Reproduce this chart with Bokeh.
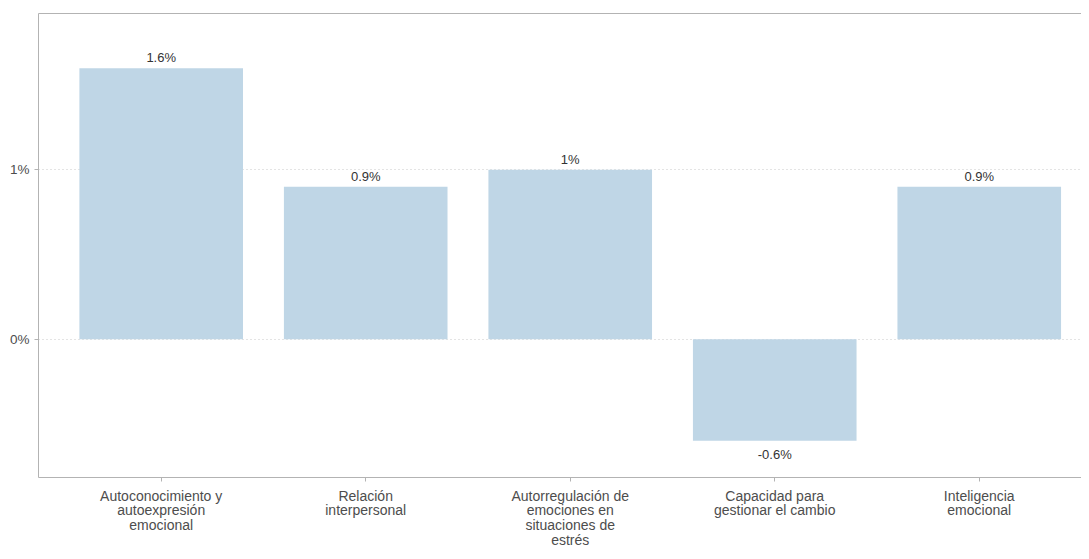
from bokeh.plotting import figure
from bokeh.models import (ColumnDataSource, Range1d, FixedTicker, LinearAxis,
                          PrintfTickFormatter)
from bokeh.embed import file_html
from bokeh.resources import INLINE
from bokeh.core.properties import value

# ---- data ----
categories = [
    "Autoconocimiento y\nautoexpresión\nemocional",
    "Relación\ninterpersonal",
    "Autorregulación de\nemociones en\nsituaciones de\nestrés",
    "Capacidad para\ngestionar el cambio",
    "Inteligencia\nemocional",
]
values = [1.6, 0.9, 1.0, -0.6, 0.9]
value_labels = ["1.6%", "0.9%", "1%", "-0.6%", "0.9%"]
y_ticks = [0, 1]

Y_START, Y_END = -0.817, 1.923

idx = list(range(len(categories)))
src = ColumnDataSource(dict(
    x=idx,
    top=values,
    label=value_labels,
    baseline=["bottom" if v >= 0 else "top" for v in values],
    yoff=[-3 if v >= 0 else 6 for v in values],
))

FONT = "Liberation Sans"
GREY_TXT = "#4d4d4d"
AXIS_COL = "#b3b3b3"

p = figure(width=1081, height=551, output_backend="svg", toolbar_location=None,
           x_range=Range1d(-0.6, 4.5), y_range=Range1d(Y_START, Y_END),
           min_border_left=38, min_border_right=0, min_border_top=13,
           min_border_bottom=10)

p.vbar(x="x", top="top", bottom=0, width=0.8, source=src,
       fill_color="#bfd6e6", line_color=None)

p.text(x="x", y="top", text="label", source=src,
       text_align="center", text_baseline="baseline", y_offset="yoff",
       text_font=value(FONT), text_font_size="13px", text_color="#333333")

# axes
p.xaxis.ticker = FixedTicker(ticks=idx)
p.xaxis.major_label_overrides = {i: c for i, c in zip(idx, categories)}
p.xaxis.major_label_text_font = FONT
p.xaxis.major_label_text_font_size = "14px"
p.xaxis.major_label_text_color = GREY_TXT
p.xaxis.major_label_text_line_height = 0.93
p.xaxis.major_label_standoff = 6

p.yaxis.ticker = FixedTicker(ticks=y_ticks)
p.yaxis.formatter = PrintfTickFormatter(format="%d%%")
p.yaxis.major_label_text_font = FONT
p.yaxis.major_label_text_font_size = "13.5px"
p.yaxis.major_label_text_color = GREY_TXT
p.yaxis.major_label_standoff = 5

for ax in (p.xaxis[0], p.yaxis[0]):
    ax.axis_line_color = AXIS_COL
    ax.major_tick_line_color = AXIS_COL
    ax.major_tick_in = 0
    ax.major_tick_out = 4
    ax.minor_tick_line_color = None

top_ax = LinearAxis(ticker=FixedTicker(ticks=[]), axis_line_color=AXIS_COL,
                    major_tick_line_color=None, minor_tick_line_color=None,
                    major_label_text_font_size="0px", major_label_standoff=0)
p.add_layout(top_ax, "above")

p.xgrid.grid_line_color = None
p.ygrid.ticker = FixedTicker(ticks=y_ticks)
p.ygrid.grid_line_color = "#c8c8c8"
p.ygrid.grid_line_dash = "1 3"
p.outline_line_color = None
p.background_fill_color = "white"

open("out.html", "w").write(file_html(p, INLINE))
